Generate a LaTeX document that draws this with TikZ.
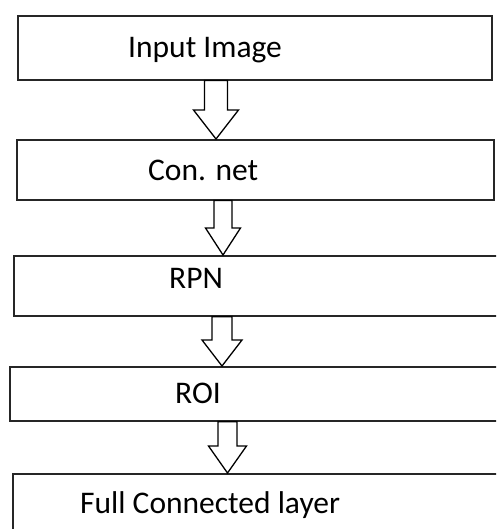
\documentclass[tikz,border=0pt]{standalone}
\usepackage{fontspec}
\setmainfont{Carlito}
\usetikzlibrary{calc}

\tikzset{
  stage/.style={draw=black!85, line width=1.6pt, rectangle, anchor=north west, inner sep=0pt},
  caption/.style={anchor=base west, inner sep=0pt, font=\fontsize{31.5}{38}\selectfont},
  hollow/.style={draw=black, line width=1.3pt, fill=white, line join=miter}
}

% hollow block arrow: from, to, centre x, half shaft, half head, head length
\newcommand{\blockarrow}[6]{%
  \draw[hollow] let \p1=(#1.south), \p2=(#2.north) in
    (#3-#4,\y1) -- (#3+#4,\y1) -- (#3+#4,\y2+#6) -- (#3+#5,\y2+#6)
    -- (#3,\y2) -- (#3-#5,\y2+#6) -- (#3-#4,\y2+#6) -- cycle;}

\begin{document}
\begin{tikzpicture}[x=1pt, y=1pt]
    % page frame
    \useasboundingbox (0,0) rectangle (496,-529);
    \fill[white] (0,0) rectangle (496,-529);
    \clip (0,0) rectangle (496,-529);
    % the stages
    \node[stage, minimum width=474pt, minimum height=64pt] (img) at (17,-15) {};
    \node[stage, minimum width=477pt, minimum height=60pt] (conv) at (16,-139) {};
    \node[stage, minimum width=497pt, minimum height=60pt] (rpn) at (13,-255) {};
    \node[stage, minimum width=501pt, minimum height=54pt] (roi) at (9,-366) {};
    \node[stage, minimum width=498pt, minimum height=72pt] (fc) at (12,-473) {};
    % their texts
    \node[caption] (imgtxt) at (128,-58) {Input Image};
    \node[caption] (convtxt) at (148,-181) {Con. net};
    \node[caption] (rpntxt) at (169,-288) {RPN};
    \node[caption] (roitxt) at (175,-403) {ROI};
    \node[caption] (fctxt) at (80,-513) {Full Connected layer};
    % the arrows between them
    \blockarrow{img}{conv}{216}{11.5}{22.5}{29}
    \blockarrow{conv}{rpn}{223}{9}{17.5}{27}
    \blockarrow{rpn}{roi}{222}{10}{20}{26}
    \blockarrow{roi}{fc}{227.5}{9.5}{19}{27}
\end{tikzpicture}
\end{document}
